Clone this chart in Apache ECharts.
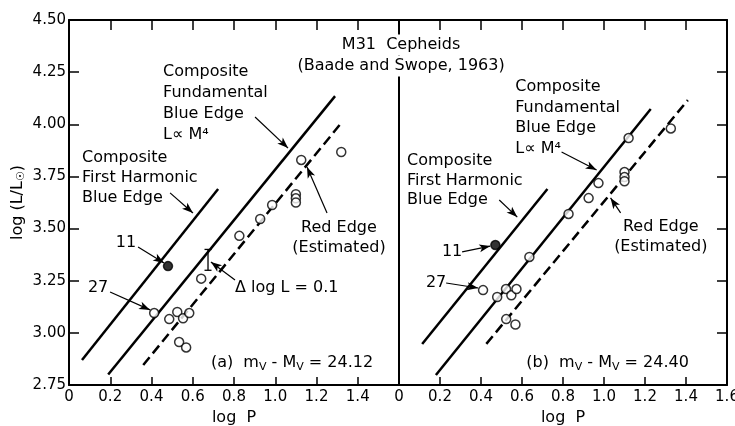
<!DOCTYPE html>
<html><head><meta charset="utf-8">
<script src="https://cdn.jsdelivr.net/npm/echarts@6/dist/echarts.min.js"></script>
<style>html,body{margin:0;padding:0;background:#fff}#c{width:735px;height:426px}</style>
</head><body><div id="c"></div>
<script>
// ---- data (log P, log L/Lsun) ----
const xTickValues = [0, 0.2, 0.4, 0.6, 0.8, 1.0, 1.2, 1.4, 1.6];
const yTickValues = [2.75, 3.00, 3.25, 3.50, 3.75, 4.00, 4.25, 4.50];

// panel (a) m-M = 24.12
const openA = [[0.413,3.095],[0.486,3.066],[0.525,3.10],[0.553,3.07],[0.583,3.095],[0.534,2.956],[0.568,2.93],[0.641,3.26],[0.826,3.465],[0.927,3.546],[0.985,3.613],[1.126,3.829],[1.32,3.867],[1.10,3.665],[1.10,3.645],[1.10,3.625]];
const filledA = [[0.48,3.32]];
const firstHarmA = [[0.063,2.87],[0.723,3.69]];
const fundA = [[0.19,2.80],[1.29,4.135]];
const redA = [[0.36,2.846],[1.32,4.006]];
const errBarA = [[0.674,3.30,3.40]];

// panel (b) m-M = 24.40
const openB = [[0.41,3.205],[0.479,3.172],[0.522,3.21],[0.548,3.18],[0.573,3.21],[0.523,3.066],[0.568,3.04],[0.636,3.364],[0.827,3.57],[0.925,3.646],[0.973,3.718],[1.12,3.934],[1.326,3.98],[1.10,3.771],[1.10,3.747],[1.10,3.727]];
const filledB = [[0.47,3.421]];
const firstHarmB = [[0.113,2.947],[0.724,3.69]];
const fundB = [[0.18,2.798],[1.228,4.073]];
const redB = [[0.426,2.947],[1.409,4.116]];

// annotation arrows [from, to] in data coords
const arrowsA = [
  [[0.902,4.035],[1.062,3.886]],
  [[0.490,3.671],[0.601,3.575]],
  [[1.251,3.575],[1.154,3.795]],
  [[0.335,3.412],[0.461,3.335]],
  [[0.199,3.196],[0.393,3.110]],
  [[0.805,3.253],[0.688,3.340]]
];
const arrowsB = [
  [[0.793,3.867],[0.964,3.781]],
  [[0.489,3.637],[0.577,3.555]],
  [[1.081,3.575],[1.032,3.647]],
  [[0.308,3.388],[0.445,3.416]],
  [[0.230,3.239],[0.386,3.215]]
];
// annotation texts: x, y (first line centre), align, lines
const textsA = [
  {x:0.456, y:4.251, align:'left', lh:21, t:['Composite','Fundamental','Blue Edge','L\u221D M\u2074']},
  {x:0.063, y:3.838, align:'left', lh:20, t:['Composite','First Harmonic','Blue Edge']},
  {x:1.309, y:3.503, align:'center', lh:20, t:['Red Edge','(Estimated)']},
  {x:0.276, y:3.431, align:'center', lh:20, t:['11']},
  {x:0.141, y:3.215, align:'center', lh:20, t:['27']},
  {x:0.805, y:3.215, align:'left', lh:20, t:['\u0394 log L = 0.1']},
  {x:0.688, y:2.855, align:'left', lh:20, t:['(a)  m{s|V} - M{s|V} = 24.12']}
];
const textsB = [
  {x:0.567, y:4.179, align:'left', lh:20.5, t:['Composite','Fundamental','Blue Edge','L\u221D M\u2074']},
  {x:0.039, y:3.824, align:'left', lh:19.5, t:['Composite','First Harmonic','Blue Edge']},
  {x:1.277, y:3.508, align:'center', lh:20, t:['Red Edge','(Estimated)']},
  {x:0.259, y:3.388, align:'center', lh:20, t:['11']},
  {x:0.181, y:3.239, align:'center', lh:20, t:['27']},
  {x:0.621, y:2.855, align:'left', lh:20, t:['(b)  m{s|V} - M{s|V} = 24.40']},
  {x:0.01, y:4.380, align:'center', lh:21, t:['M31  Cepheids'], bg:true},
  {x:0.01, y:4.279, align:'center', lh:21, t:['(Baade and Swope, 1963)'], bg:true}
];

const FONT = 'DejaVu Sans';
const chart = echarts.init(document.getElementById('c'), null, {renderer:'canvas'});

function fmtX(v){ return v === 0 ? '0' : v.toFixed(1); }
function xAx(grid, pos, labels, showMax){
  return {
    gridIndex: grid, type:'value', position: pos, min: 0, max: 1.6, interval: 0.2,
    axisLine:{show:true, onZero:false, lineStyle:{color:'#000', width:2}},
    axisTick:{show:true, inside:true, length: pos==='top'?10:8, lineStyle:{color:'#000', width:1.5}},
    axisLabel:{show: labels, formatter: fmtX, color:'#000', fontFamily: FONT, fontSize: 15, margin: 5, showMaxLabel: showMax, showMinLabel: true},
    splitLine:{show:false},
    name: (labels && pos==='bottom') ? 'log  P' : '', nameLocation:'middle', nameGap: 22,
    nameTextStyle:{color:'#000', fontFamily: FONT, fontSize: 16}
  };
}
function yAx(grid, pos, labels, ticks){
  return {
    gridIndex: grid, type:'value', position: pos, min: 2.75, max: 4.5, interval: 0.25,
    axisLine:{show:true, onZero:false, lineStyle:{color:'#000', width:2}},
    axisTick:{show:ticks, inside:true, length: 10, lineStyle:{color:'#000', width:1.5}},
    axisLabel:{show: labels, formatter: v => v.toFixed(2), color:'#000', fontFamily: FONT, fontSize: 15, margin: 3},
    splitLine:{show:false},
    name: labels ? 'log (L/L{s|\u2609})' : '', nameLocation:'middle', nameGap: 42, nameRotate: 90,
    nameTextStyle:{color:'#000', fontFamily: FONT, fontSize: 16, rich:{s:{fontSize:11, fontFamily: FONT, padding:[8,0,0,0]}}}
  };
}

function lineSeries(xi, yi, data, dashed){
  return {type:'line', xAxisIndex: xi, yAxisIndex: yi, data, symbol:'none', silent:true, z:2,
    lineStyle:{color:'#000', width:2.5, type: dashed ? [10,5] : 'solid'}};
}
function pts(xi, yi, data, filled){
  return {type:'scatter', xAxisIndex: xi, yAxisIndex: yi, data, symbol:'circle', symbolSize: 9, silent:true, z:5,
    itemStyle:{color: filled ? '#000' : '#fff', borderColor:'#000', borderWidth:1.5}};
}
function arrowSeries(xi, yi, arrows){
  return {type:'line', xAxisIndex: xi, yAxisIndex: yi, data: [], silent:true, z:4,
    markLine:{silent:true, animation:false, symbol:['none','arrow'], symbolSize:[6,11], precision: 4,
      label:{show:false}, emphasis:{disabled:true},
      lineStyle:{color:'#000', width:1.2, type:'solid'},
      data: arrows.map(a => [{coord:a[0]},{coord:a[1]}])}};
}

chart.setOption({
  animation:false,
  backgroundColor:'#fff',
  grid:[
    {left:69, top:20, width:330, height:365, containLabel:false, outerBoundsMode:'none'},
    {left:399, top:20, width:328, height:365, containLabel:false, outerBoundsMode:'none'}
  ],
  xAxis:[ xAx(0,'bottom',true,false), xAx(0,'top',false,false), xAx(1,'bottom',true,true), xAx(1,'top',false,false) ],
  yAxis:[ yAx(0,'left',true,true), yAx(0,'right',false,false), yAx(1,'right',false,true) ],
  series:[
    lineSeries(0,0,firstHarmA,false), lineSeries(0,0,fundA,false), lineSeries(0,0,redA,true),
    pts(0,0,openA,false), pts(0,0,filledA,true),
    arrowSeries(0,0,arrowsA),
    {type:'custom', xAxisIndex:0, yAxisIndex:0, data: errBarA, silent:true, z:4,
      renderItem:(params, api) => {
        const a = api.coord([api.value(0), api.value(1)]);
        const b = api.coord([api.value(0), api.value(2)]);
        const st = {stroke:'#000', lineWidth:1.3};
        return {type:'group', children:[
          {type:'line', shape:{x1:a[0],y1:a[1],x2:b[0],y2:b[1]}, style:st},
          {type:'line', shape:{x1:a[0]-3.5,y1:a[1],x2:a[0]+3.5,y2:a[1]}, style:st},
          {type:'line', shape:{x1:b[0]-3.5,y1:b[1],x2:b[0]+3.5,y2:b[1]}, style:st}
        ]};
      }},
    lineSeries(2,2,firstHarmB,false), lineSeries(2,2,fundB,false), lineSeries(2,2,redB,true),
    pts(2,2,openB,false), pts(2,2,filledB,true),
    arrowSeries(2,2,arrowsB)
  ]
});

function buildTexts(list, finder){
  return list.map(o => {
    const p = chart.convertToPixel(finder, [o.x, o.y]);
    const el = {type:'text', x: p[0], y: p[1] - o.lh/2, z: 50,
      style:{text: o.t.join('\n'), fill:'#000', font: '16px "' + FONT + '"', align: o.align, verticalAlign:'top', lineHeight: o.lh,
        rich:{s:{fontSize:11, fontFamily: FONT, padding:[8,0,0,0], lineHeight: o.lh}}}};
    if (o.bg) { el.style.backgroundColor = '#fff'; el.style.padding = [0,3]; }
    return el;
  });
}
chart.setOption({graphic: buildTexts(textsA, {xAxisIndex:0, yAxisIndex:0}).concat(buildTexts(textsB, {xAxisIndex:2, yAxisIndex:2}))});
</script></body></html>
